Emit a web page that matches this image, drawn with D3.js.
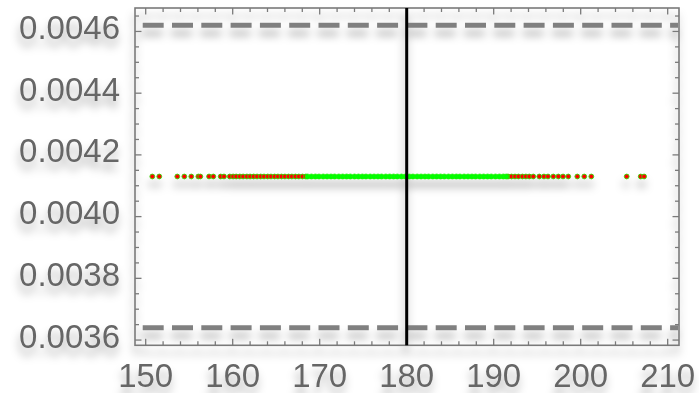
<!DOCTYPE html>
<html>
<head>
<meta charset="utf-8">
<script src="https://cdn.jsdelivr.net/npm/d3@7"></script>
<style>
  html, body { margin: 0; padding: 0; background: #fff; }
  #chart { width: 699px; height: 393px; }
</style>
</head>
<body>
<div id="chart"></div>
<script>
// ---- data ----
const pointY = 0.00413;          // all points sit on one level
const upperLimit = 0.00462;      // dashed lines
const lowerLimit = 0.00364;
const centerX = 180;             // vertical black line

// outer (red) points, left side
const redLeft = [150.76, 151.56, 153.63, 154.44, 155.24, 156.05, 156.28, 157.28, 157.77,
  158.62, 159.0, 159.66, 160.05, 160.4, 160.82, 161.2, 161.63, 162.0, 162.41, 162.8,
  163.22, 163.6, 164.03, 164.4, 164.82, 165.2, 165.61, 166.0, 166.42, 166.8, 167.21,
  167.6, 168.02, 168.4];
// inner (green) points
const greenMid = [168.6, 169.05, 169.5, 169.92, 170.4, 170.85, 171.3, 171.72, 172.2,
  172.65, 173.1, 173.52, 174.0, 174.45, 174.9, 175.32, 175.8, 176.25, 176.7, 177.12,
  177.6, 178.05, 178.5, 178.92, 179.4, 179.85, 180.3, 180.72, 181.2, 181.65, 182.1,
  182.52, 183.0, 183.45, 183.9, 184.32, 184.8, 185.25, 185.7, 186.12, 186.6, 187.05,
  187.5, 187.92, 188.4, 188.85, 189.3, 189.72, 190.2, 190.65, 191.1, 191.45];
// outer (red) points, right side
const redRight = [191.65, 192.05, 192.45, 192.85, 193.3, 193.7, 194.09, 194.55, 195.24,
  195.78, 196.24, 196.85, 197.43, 197.97, 198.57, 199.61, 200.41, 201.22, 205.29,
  206.9, 207.29];

const xTicks = [150, 160, 170, 180, 190, 200, 210];
const xMinor = [148.77, 152, 154, 156, 158, 162, 164, 166, 168, 172, 174, 176, 178, 182,
  184, 186, 188, 192, 194, 196, 198, 202, 204, 206, 208];
const yTicks = [0.0036, 0.0038, 0.0040, 0.0042, 0.0044, 0.0046];
const yMinor = [0.00365, 0.0037, 0.00375, 0.00385, 0.0039, 0.00395, 0.00405, 0.0041,
  0.00415, 0.00425, 0.0043, 0.00435, 0.00445, 0.0045, 0.00455, 0.00465];

// ---- layout ----
const width = 699, height = 393;
const frame = { left: 135, right: 679, top: 8, bottom: 345.3 };

const svg = d3.select("#chart").append("svg")
  .attr("width", width)
  .attr("height", height);

const defs = svg.append("defs");
const shadow = defs.append("filter")
  .attr("id", "shadow")
  .attr("filterUnits", "userSpaceOnUse")
  .attr("x", -20).attr("y", -20)
  .attr("width", width + 40).attr("height", height + 40);
shadow.append("feDropShadow")
  .attr("dx", -1).attr("dy", 8)
  .attr("stdDeviation", 4.5)
  .attr("flood-color", "#000")
  .attr("flood-opacity", 0.3);

const x = d3.scaleLinear().domain([148.77, 211.3]).range([frame.left, frame.right]);
const y = d3.scaleLinear().domain([0.003583, 0.004676]).range([frame.bottom, frame.top]);

const g = svg.append("g").attr("filter", "url(#shadow)");

const frameColor = "#7a7a7a";
const labelColor = "#666";

// frame
g.append("rect")
  .attr("x", frame.left).attr("y", frame.top)
  .attr("width", frame.right - frame.left)
  .attr("height", frame.bottom - frame.top)
  .attr("fill", "none")
  .attr("stroke", frameColor)
  .attr("stroke-width", 1.6);

// ticks on all four sides, pointing inward
const majorLen = 6.5, minorLen = 4;
const tickG = g.append("g").attr("stroke", frameColor).attr("stroke-width", 1.3);

[[xTicks, majorLen], [xMinor.filter(v => v > 149), minorLen]].forEach(([vals, len]) => {
  vals.forEach(v => {
    tickG.append("line")
      .attr("x1", x(v)).attr("x2", x(v))
      .attr("y1", frame.bottom).attr("y2", frame.bottom - len);
    tickG.append("line")
      .attr("x1", x(v)).attr("x2", x(v))
      .attr("y1", frame.top).attr("y2", frame.top + len);
  });
});
[[yTicks, majorLen], [yMinor, minorLen]].forEach(([vals, len]) => {
  vals.forEach(v => {
    tickG.append("line")
      .attr("x1", frame.left).attr("x2", frame.left + len)
      .attr("y1", y(v)).attr("y2", y(v));
    tickG.append("line")
      .attr("x1", frame.right).attr("x2", frame.right - len)
      .attr("y1", y(v)).attr("y2", y(v));
  });
});

// tick labels
const font = "'Liberation Sans', Arial, sans-serif";
g.append("g").selectAll("text")
  .data(yTicks)
  .join("text")
  .attr("x", 120)
  .attr("y", d => y(d) + 7.5)
  .attr("text-anchor", "end")
  .attr("font-family", font)
  .attr("font-size", 33)
  .attr("fill", labelColor)
  .text(d => d.toFixed(4));

g.append("g").selectAll("text")
  .data(xTicks)
  .join("text")
  .attr("x", d => x(d))
  .attr("y", 387)
  .attr("text-anchor", "middle")
  .attr("font-family", font)
  .attr("font-size", 33)
  .attr("fill", labelColor)
  .text(d => d);

// dashed limit lines
g.append("g").selectAll("line")
  .data([upperLimit, lowerLimit])
  .join("line")
  .attr("x1", frame.left + 1).attr("x2", frame.right - 1)
  .attr("y1", d => y(d)).attr("y2", d => y(d))
  .attr("stroke", "#808080")
  .attr("stroke-width", 5)
  .attr("stroke-dasharray", "21,8.3")
  .attr("stroke-dashoffset", 22.6);

// points
const ptG = g.append("g");
ptG.selectAll("circle.red")
  .data(redLeft.concat(redRight))
  .join("circle")
  .attr("class", "red")
  .attr("cx", d => x(d))
  .attr("cy", y(pointY))
  .attr("r", 2.4)
  .attr("fill", "#ff0000")
  .attr("stroke", "#33dd00")
  .attr("stroke-width", 0.9);

ptG.selectAll("circle.green")
  .data(greenMid)
  .join("circle")
  .attr("class", "green")
  .attr("cx", d => x(d))
  .attr("cy", y(pointY))
  .attr("r", 2.6)
  .attr("fill", "#00ff00")
  .attr("stroke", "#22ee00")
  .attr("stroke-width", 0.6);

// vertical reference line
g.append("line")
  .attr("x1", x(centerX)).attr("x2", x(centerX))
  .attr("y1", frame.top).attr("y2", frame.bottom)
  .attr("stroke", "#000")
  .attr("stroke-width", 3);
</script>
</body>
</html>
